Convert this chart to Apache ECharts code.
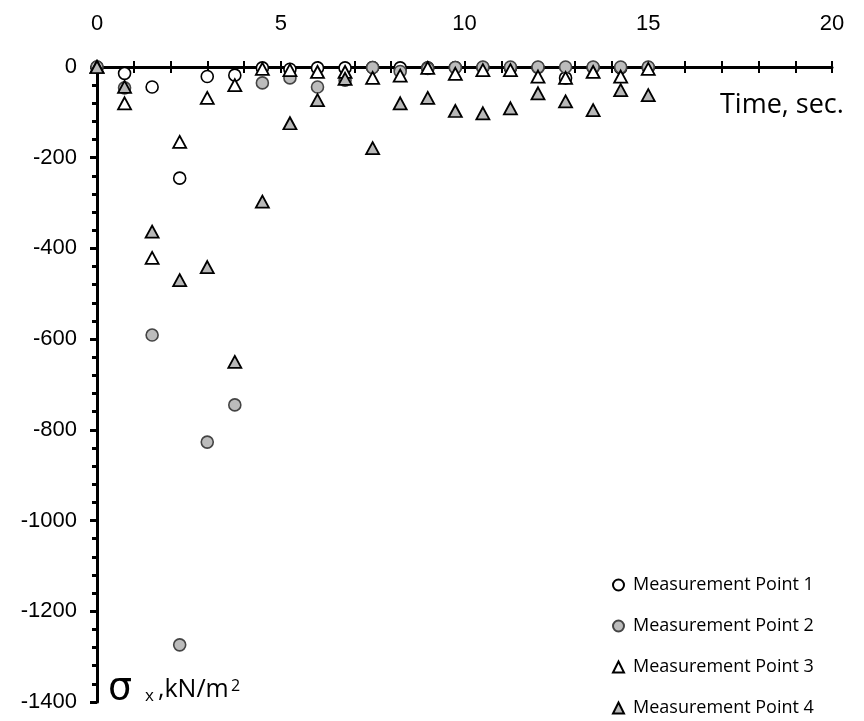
<!DOCTYPE html>
<html>
<head>
<meta charset="utf-8">
<script src="https://cdn.jsdelivr.net/npm/echarts@6/dist/echarts.min.js"></script>
<style>html,body{margin:0;padding:0;background:#fff;}#c{width:864px;height:721px;}</style>
</head>
<body>
<div id="c"></div>
<script>
const times = [0, 0.75, 1.5, 2.25, 3.0, 3.75, 4.5, 5.25, 6.0, 6.75, 7.5, 8.25, 9.0, 9.75, 10.5, 11.25, 12.0, 12.75, 13.5, 14.25, 15.0];
const mp1 = [0, -14, -44, -245, -21, -18, -2, -5, -2, -2, -1, -2, -2, -1, -1, -2, -1, -24, -1, -2, -1];
const mp2 = [0, -46, -591, -1274, -827, -745, -35, -24, -44, -29, -1, -10, -3, -1, 0, 0, 0, 0, 0, 0, 0];
const mp3 = [0, -80, -421, -165, -68, -40, -4, -7, -11, -11, -24, -19, -2, -15, -7, -7, -21, -24, -11, -21, -4];
const mp4 = [0, -44, -363, -470, -441, -650, -297, -124, -73, -26, -179, -80, -68, -97, -102, -91, -58, -76, -95, -51, -62];
const xTicks = [0, 5, 10, 15, 20];
const seriesNames = ['Measurement Point 1', 'Measurement Point 2', 'Measurement Point 3', 'Measurement Point 4'];

const pts = arr => times.map((t, i) => [t, arr[i]]);
const numFont = '"Liberation Sans", Arial, sans-serif';
const txtFont = '"Comic Sans MS", "Open Sans", sans-serif';

const chart = echarts.init(document.getElementById('c'), null, {renderer: 'canvas'});
chart.setOption({
  animation: false,
  backgroundColor: '#fff',
  grid: {left: 97, right: 32, top: 67, bottom: 19, containLabel: false},
  xAxis: [
    {
      type: 'value', position: 'top', min: 0, max: 20, interval: 1,
      axisLine: {show: true, onZero: false, lineStyle: {color: '#000', width: 3}},
      axisTick: {show: true, length: 6, lineStyle: {color: '#000', width: 2}},
      axisLabel: {
        margin: 32, fontSize: 22, color: '#000', fontFamily: numFont,
        formatter: v => (xTicks.indexOf(v) >= 0 ? String(v) : '')
      },
      splitLine: {show: false}
    },
    {
      type: 'value', position: 'top', min: 0, max: 20, interval: 1,
      axisLine: {show: false},
      axisTick: {show: true, inside: true, length: 6, lineStyle: {color: '#000', width: 2}},
      axisLabel: {show: false},
      splitLine: {show: false}
    }
  ],
  yAxis: {
    type: 'value', min: -1400, max: 0, interval: 200,
    axisLine: {show: true, onZero: false, lineStyle: {color: '#000', width: 3}},
    axisTick: {show: true, length: 7, lineStyle: {color: '#000', width: 3}},
    minorTick: {show: true, splitNumber: 5, length: 5, lineStyle: {color: '#000', width: 3}},
    axisLabel: {margin: 20, fontSize: 22, color: '#000', fontFamily: numFont, formatter: v => String(v)},
    splitLine: {show: false},
    minorSplitLine: {show: false}
  },
  legend: {
    orient: 'vertical', left: 612, top: 576, padding: 0,
    itemWidth: 11, itemHeight: 11, itemGap: 23,
    textStyle: {fontSize: 18, lineHeight: 17, color: '#000', fontFamily: txtFont, padding: [0, 0, 0, 4]},
    data: seriesNames
  },
  series: [
    {
      name: seriesNames[0], type: 'scatter', data: pts(mp1), symbol: 'circle', symbolSize: 12,
      itemStyle: {color: '#fff', borderColor: '#000', borderWidth: 1.6, opacity: 1}
    },
    {
      name: seriesNames[1], type: 'scatter', data: pts(mp2), symbol: 'circle', symbolSize: 12,
      itemStyle: {color: '#bcbcbc', borderColor: '#444', borderWidth: 1.6, opacity: 1}
    },
    {
      name: seriesNames[2], type: 'scatter', data: pts(mp3), symbol: 'triangle', symbolSize: [13, 12],
      itemStyle: {color: '#fff', borderColor: '#000', borderWidth: 1.8, opacity: 1}
    },
    {
      name: seriesNames[3], type: 'scatter', data: pts(mp4), symbol: 'triangle', symbolSize: [13, 12],
      itemStyle: {color: '#b8b8b8', borderColor: '#000', borderWidth: 1.8, opacity: 1}
    }
  ],
  graphic: [
    {type: 'text', left: 720, top: 92, style: {text: 'Time, sec.', fontSize: 27, fontFamily: txtFont, fill: '#000'}},
    {type: 'text', left: 108, top: 670, style: {text: 'σ', fontSize: 38, fontFamily: 'DejaVu Sans', fill: '#000'}},
    {type: 'text', left: 145, top: 688, style: {text: 'x', fontSize: 17, fontFamily: txtFont, fill: '#000'}},
    {type: 'text', left: 158, top: 677, style: {text: ',kN/m', fontSize: 25, fontFamily: txtFont, fill: '#000'}},
    {type: 'text', left: 231, top: 678, style: {text: '2', fontSize: 16, fontFamily: txtFont, fill: '#000'}}
  ]
});
</script>
</body>
</html>
